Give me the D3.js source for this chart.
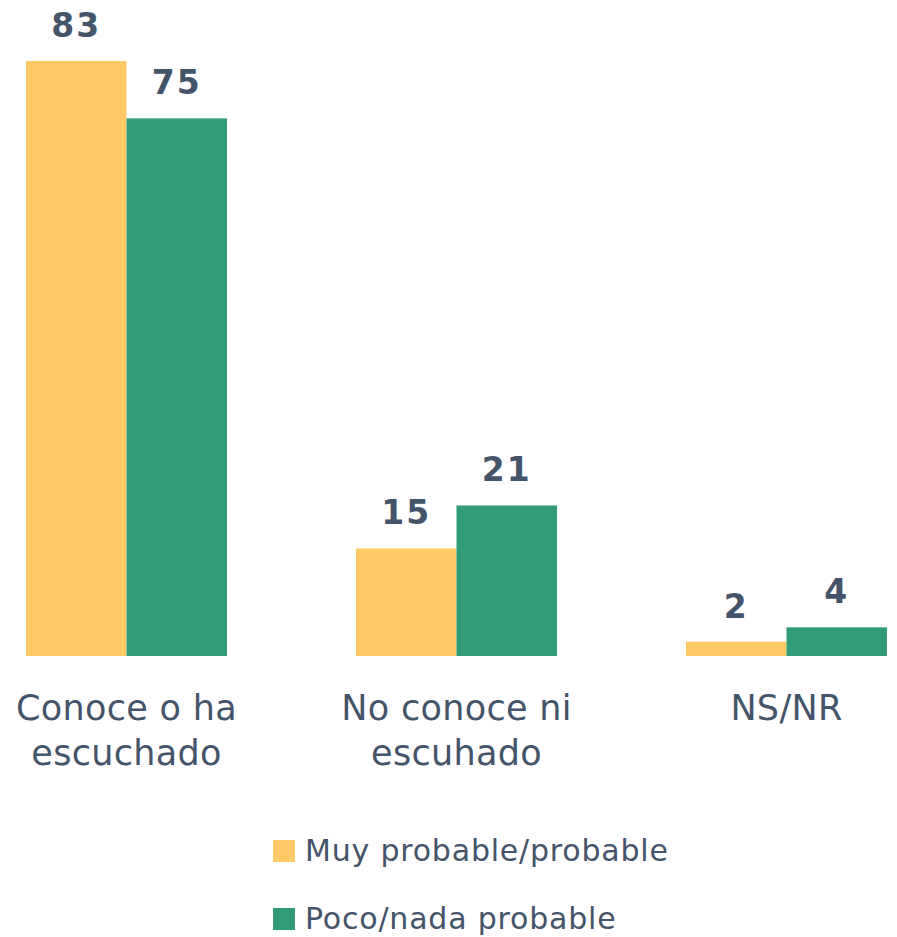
<!DOCTYPE html>
<html><head><meta charset="utf-8">
<script src="https://cdn.jsdelivr.net/npm/d3@7"></script>
<style>body{margin:0;background:#fff}</style>
</head><body>
<svg id="c" width="897" height="937"></svg>
<script>
const categories = ["Conoce o ha|escuchado", "No conoce ni|escuhado", "NS/NR"];
const seriesNames = ["Muy probable/probable", "Poco/nada probable"];
const muyProbable = [83, 15, 2];
const pocoNada = [75, 21, 4];
const colors = ["#FFCA66", "#329B78"];
const textColor = "#44546A";

const svg = d3.select("#c");
const x0 = d3.scaleBand().domain(categories).range([26, 887]).paddingInner(129 / 330).paddingOuter(0);
const x1 = d3.scaleBand().domain(seriesNames).range([0, x0.bandwidth()]);
const y = d3.scaleLinear().domain([0, 83]).range([656, 61]);

const data = categories.map((c, i) => ({cat: c, vals: [muyProbable[i], pocoNada[i]]}));

const g = svg.selectAll("g.grp").data(data).join("g").attr("class", "grp")
  .attr("transform", d => `translate(${x0(d.cat)},0)`);

g.selectAll("rect").data(d => d.vals.map((v, j) => ({v, s: seriesNames[j], j})))
  .join("rect")
  .attr("x", d => x1(d.s)).attr("width", x1.bandwidth())
  .attr("y", d => y(d.v)).attr("height", d => y(0) - y(d.v))
  .attr("fill", d => colors[d.j]);

g.selectAll("text.val").data(d => d.vals.map((v, j) => ({v, s: seriesNames[j], j})))
  .join("text").attr("class", "val")
  .attr("x", d => x1(d.s) + x1.bandwidth() / 2)
  .attr("y", d => y(d.v) - 24)
  .attr("text-anchor", "middle")
  .attr("font-family", "'DejaVu Sans', sans-serif").attr("font-weight", "bold")
  .attr("font-size", 33).attr("letter-spacing", 2).attr("fill", textColor)
  .text(d => d.v);

g.append("text").attr("class", "cat")
  .attr("x", x0.bandwidth() / 2).attr("y", 720)
  .attr("text-anchor", "middle")
  .attr("font-family", "'DejaVu Sans', sans-serif")
  .attr("font-size", 35).attr("letter-spacing", 0.3).attr("fill", textColor)
  .selectAll("tspan").data(d => d.cat.split("|")).join("tspan")
  .attr("x", x0.bandwidth() / 2).attr("dy", (d, i) => i ? 45 : 0)
  .text(d => d);

const leg = svg.selectAll("g.leg").data(seriesNames).join("g").attr("class", "leg")
  .attr("transform", (d, i) => `translate(273,${840 + i * 68})`);
leg.append("rect").attr("width", 22).attr("height", 22).attr("fill", (d, i) => colors[i]);
leg.append("text").attr("x", 32).attr("y", 21)
  .attr("font-family", "'DejaVu Sans', sans-serif").attr("font-size", 30)
  .attr("letter-spacing", 0.8)
  .attr("fill", textColor).text(d => d);
</script>
</body></html>
